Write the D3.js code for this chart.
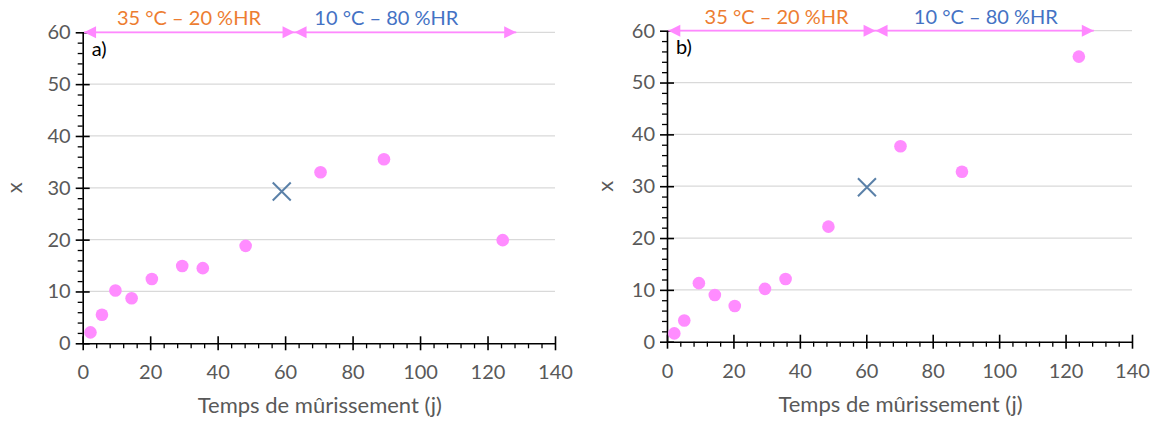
<!DOCTYPE html>
<html><head><meta charset="utf-8">
<script src="https://cdn.jsdelivr.net/npm/d3@7"></script>
<style>body{margin:0;background:#fff}svg{display:block}text{font-family:Lato,"Open Sans",sans-serif}</style>
</head><body>
<svg id="c" width="1155" height="421"></svg>
<script>
const xTicks = [0,20,40,60,80,100,120,140];
const yTicks = [0,10,20,30,40,50,60];
const xTitle = "Temps de mûrissement (j)";
const yTitle = "x";
const phaseLabels = ["35 °C – 20 %HR", "10 °C – 80 %HR"];
const phaseBounds = [0.4, 62.8, 128.5];
const panelLabels = ["a)", "b)"];
const daysA = [2.3, 5.7, 9.7, 14.5, 20.5, 29.5, 35.6, 48.3, 70.5, 89.3, 124.5];
const valsA = [2.1, 5.5, 10.2, 8.7, 12.4, 14.9, 14.5, 18.8, 33.0, 35.5, 19.9];
const daysB = [2.2, 5.2, 9.6, 14.4, 20.4, 29.5, 35.7, 48.6, 70.3, 88.8, 124.0];
const valsB = [1.6, 4.1, 11.3, 9.0, 6.9, 10.2, 12.1, 22.2, 37.7, 32.8, 55.0];
const crossA = [59.0, 29.3];
const crossB = [60.2, 29.8];

const svg = d3.select("#c");
const panels = [
  {x0:82.7, x1:555, y0:343.3, y1:32.3, days:daysA, vals:valsA, cross:crossA, label:panelLabels[0], tx:[31.5, 90], ty:68},
  {x0:667, x1:1132, y0:341.7, y1:30.7, days:daysB, vals:valsB, cross:crossB, label:panelLabels[1], tx:[33, 96], ty:62}
];
const pink = "#ff88ff";
panels.forEach(p => {
  const g = svg.append("g");
  const x = d3.scaleLinear().domain([0,140]).range([p.x0,p.x1]);
  const y = d3.scaleLinear().domain([0,60]).range([p.y0,p.y1]);
  g.selectAll(".grid").data(yTicks.filter(v=>v>0)).join("line")
    .attr("x1", p.x0).attr("x2", p.x1).attr("y1", d=>y(d)).attr("y2", d=>y(d))
    .attr("stroke", "#d9d9d9").attr("stroke-width", 1.3);
  const ym = d3.range(0,61,2).filter(v=>v%10);
  const xm = d3.range(0,141,4).filter(v=>v%20);
  g.append("g").attr("transform",`translate(${p.x0},0)`)
    .call(d3.axisLeft(y).tickValues(ym).tickSize(5).tickFormat(""))
    .call(s=>{s.select(".domain").remove(); s.selectAll("line").attr("stroke","#000").attr("stroke-width",1.3);});
  g.append("g").attr("transform",`translate(0,${p.y0})`)
    .call(d3.axisBottom(x).tickValues(xm).tickSize(5).tickFormat(""))
    .call(s=>{s.select(".domain").remove(); s.selectAll("line").attr("stroke","#000").attr("stroke-width",1.3);});
  const ya = g.append("g").attr("transform",`translate(${p.x0},0)`)
    .call(d3.axisLeft(y).tickValues(yTicks).tickSize(7).tickSizeOuter(0).tickPadding(5));
  ya.selectAll(".tick line").attr("x1", 7);
  const xa = g.append("g").attr("transform",`translate(0,${p.y0})`)
    .call(d3.axisBottom(x).tickValues(xTicks).tickSize(7).tickSizeOuter(0).tickPadding(15));
  xa.selectAll(".tick line").attr("y1", -7);
  [ya, xa].forEach(a => {
    a.select(".domain").attr("stroke","#000").attr("stroke-width",1.6);
    a.selectAll(".tick line").attr("stroke","#000").attr("stroke-width",1.6);
    a.selectAll("text").attr("fill","#595959").style("font-size","20px").style("font-family","Lato,'Open Sans',sans-serif");
  });
  g.append("text").attr("x", (p.x0+p.x1)/2 + 1).attr("y", p.y0+70).attr("text-anchor","middle")
    .attr("fill","#595959").style("font-size","22px").text(xTitle);
  g.append("text").attr("transform",`translate(${p.x0-p.ty},${y(30)}) rotate(-90)`).attr("text-anchor","middle")
    .attr("dy","0.35em").attr("fill","#595959").style("font-size","22px").text(yTitle);
  g.append("text").attr("x", p.x0+9).attr("y", y(56.8)).attr("dy","0.35em")
    .attr("fill","#000").style("font-size","20px").text(p.label);
  const ay = y(60);
  g.append("line").attr("x1", x(phaseBounds[0])).attr("x2", x(phaseBounds[2])).attr("y1", ay).attr("y2", ay)
    .attr("stroke", pink).attr("stroke-width", 1.8);
  const head = (tip, dir) => {
    const L = 12, H = 6;
    return `M${tip},${ay} L${tip - dir*L},${ay-H} L${tip - dir*L},${ay+H} Z`;
  };
  const heads = [[phaseBounds[0],-1],[phaseBounds[1],1],[phaseBounds[1],-1],[phaseBounds[2],1]];
  g.selectAll(".head").data(heads).join("path")
    .attr("d", d=>head(x(d[0]), d[1])).attr("fill", pink);
  g.selectAll(".ph").data(phaseLabels).join("text")
    .attr("x", (d,i)=>x(p.tx[i])).attr("y", ay-14).attr("dy","0.35em").attr("text-anchor","middle")
    .attr("fill", (d,i)=> i===0 ? "#ed7d31" : "#4472c4").style("font-size","20px").text(d=>d);
  g.selectAll(".pt").data(p.days.map((d,i)=>[d,p.vals[i]])).join("circle")
    .attr("cx", d=>x(d[0])).attr("cy", d=>y(d[1])).attr("r", 6.3).attr("fill", "#ff8cff");
  const cx = x(p.cross[0]), cy = y(p.cross[1]), s = 9;
  g.append("path").attr("d", `M${cx-s},${cy-s}L${cx+s},${cy+s}M${cx-s},${cy+s}L${cx+s},${cy-s}`)
    .attr("stroke", "#5a80a8").attr("stroke-width", 2).attr("fill","none");
});
</script>
</body></html>
